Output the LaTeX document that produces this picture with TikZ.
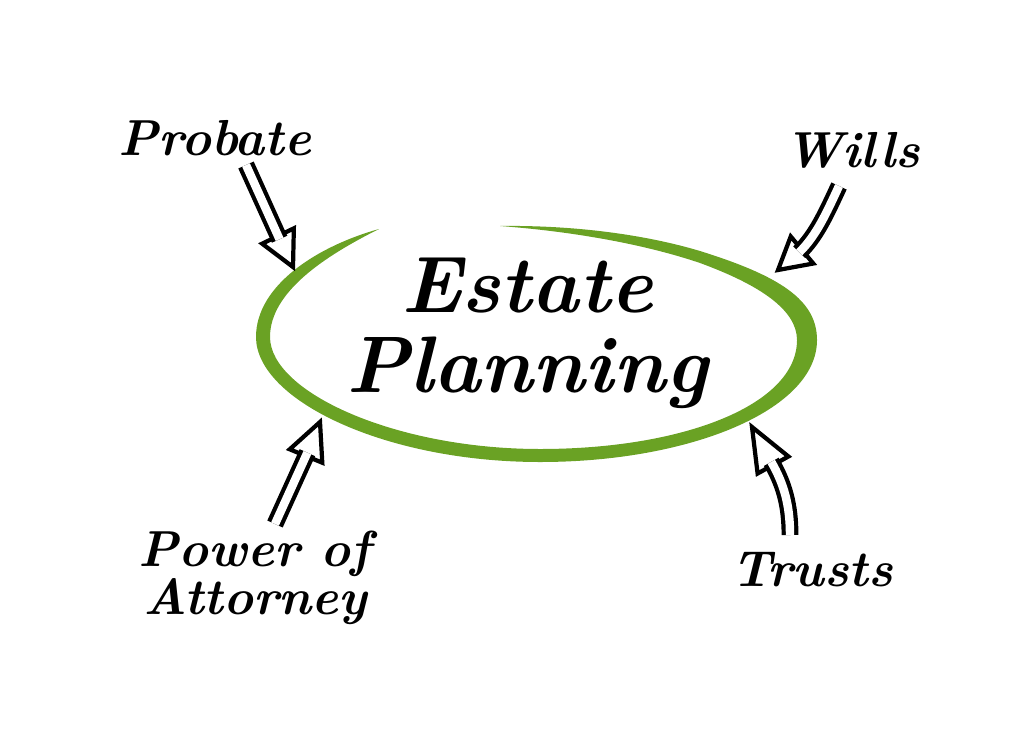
\documentclass[tikz,border=0pt]{standalone}
\usepackage{tikz}
\usetikzlibrary{calc}
\definecolor{ringgreen}{RGB}{106,162,36}

\tikzset{
    handtext/.style={font=\bfseries\itshape, align=center, inner sep=0pt},
    shaft/.style={draw=black, line width=3pt, double=white, double distance=6pt},
    hollowtip/.style={draw=black, fill=white, line width=3pt, line join=miter},
    ring/.style={fill=ringgreen}
}
% hollow arrow head: #1 = middle of its base, #2 = tip
\newcommand{\hollowhead}[2]{%
    \draw[hollowtip] ($(#1)!0.44cm!90:(#2)$) -- (#2) -- ($(#1)!0.44cm!-90:(#2)$) -- cycle;}

\begin{document}
\begin{tikzpicture}[x=0.025cm, y=-0.025cm]
\useasboundingbox (0,0) rectangle (1023,729);

% hand drawn ring
\fill[ring] (500,226) .. controls (580,225) and (650,236) .. (700,251)
    .. controls (780,276) and (817,300) .. (817,340)
    .. controls (817,410) and (690,462) .. (540,462)
    .. controls (385,462) and (256,400) .. (256,337)
    .. controls (256,285) and (318,246) .. (379,229)
    .. controls (325,256) and (270,292) .. (270,337)
    .. controls (270,392) and (395,449) .. (540,449)
    .. controls (683,449) and (797,405) .. (797,340)
    .. controls (797,310) and (760,285) .. (700,263)
    .. controls (650,246) and (580,232) .. (500,226) -- cycle;

% labels
\node[handtext, font=\fontsize{57}{57}\selectfont\bfseries\itshape] (estate) at (527,333) {Estate\\Planning};
\node[handtext, font=\fontsize{36}{40}\selectfont\bfseries\itshape] (probate) at (215,138) {Probate};
\node[handtext, font=\fontsize{36}{40}\selectfont\bfseries\itshape] (wills) at (852,150) {Wills};
\node[handtext, font=\fontsize{36}{32}\selectfont\bfseries\itshape] (attorney) at (255,578) {Power of\\Attorney};
\node[handtext, font=\fontsize{36}{40}\selectfont\bfseries\itshape] (trusts) at (812,570) {Trusts};

% arrow ends
\coordinate (prob-tail) at (246,165);
\coordinate (prob-base) at (278,236);
\coordinate (prob-tip) at (293,267);
\coordinate (wills-tail) at (839,186);
\coordinate (wills-base) at (802,250);
\coordinate (wills-tip) at (778,270);
\coordinate (poa-tail) at (275,524);
\coordinate (poa-base) at (306,456);
\coordinate (poa-tip) at (320,422);
\coordinate (trust-tail) at (790,535);
\coordinate (trust-base) at (773,465);
\coordinate (trust-tip) at (752,427);

% arrows
\hollowhead{prob-base}{prob-tip}
\draw[shaft] (prob-tail) -- ($(prob-base)!0.09cm!(prob-tip)$);

\hollowhead{wills-base}{wills-tip}
\draw[shaft] (wills-tail) .. controls (826,214) and (816,236) .. ($(wills-base)!0.09cm!(wills-tip)$);

\hollowhead{poa-base}{poa-tip}
\draw[shaft] (poa-tail) -- ($(poa-base)!0.09cm!(poa-tip)$);

\hollowhead{trust-base}{trust-tip}
\draw[shaft] (trust-tail) .. controls (790,505) and (784,484) .. ($(trust-base)!0.09cm!(trust-tip)$);

\end{tikzpicture}
\end{document}
